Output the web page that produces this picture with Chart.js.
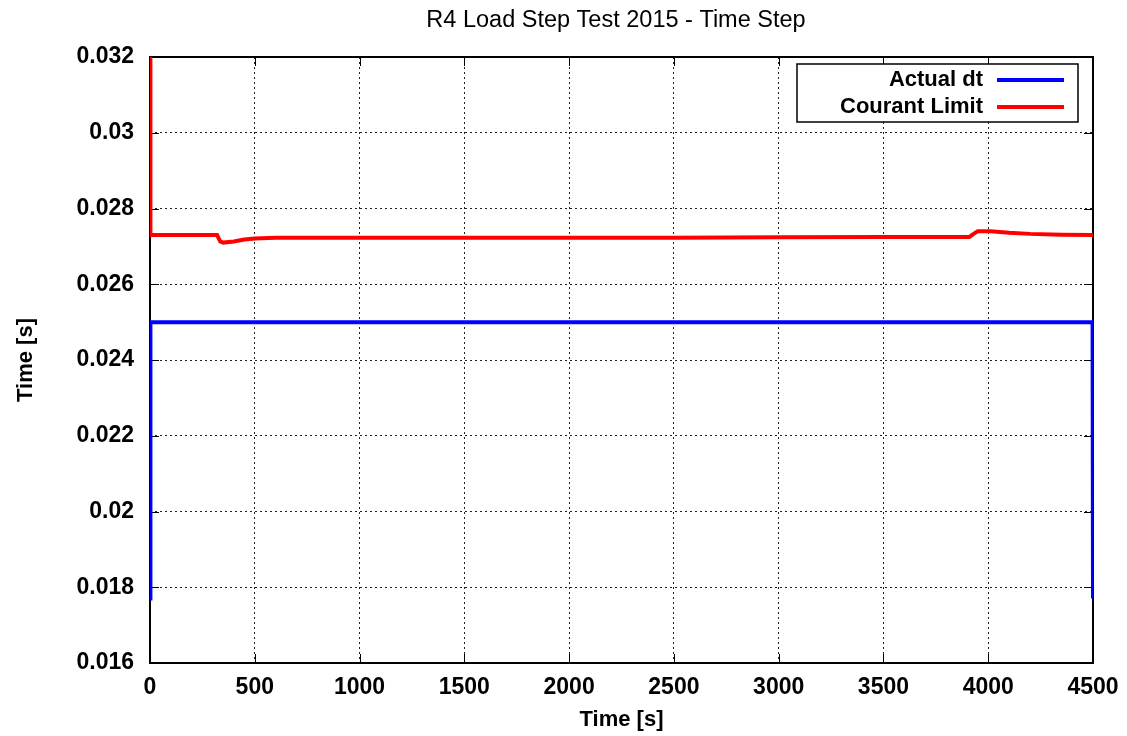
<!DOCTYPE html>
<html>
<head>
<meta charset="utf-8">
<script src="https://cdn.jsdelivr.net/npm/chart.js@4/dist/chart.umd.min.js"></script>
<style>
  html, body { margin: 0; padding: 0; background: #fff; }
  #wrap { width: 1127px; height: 736px; }
</style>
</head>
<body>
<div id="wrap"><canvas id="myChart" width="1127" height="736"></canvas></div>
<script>
// chart data
const chartTitle = 'R4 Load Step Test 2015 - Time Step';
const xTickLabels = ['0', '500', '1000', '1500', '2000', '2500', '3000', '3500', '4000', '4500'];
const yTickLabels = ['0.016', '0.018', '0.02', '0.022', '0.024', '0.026', '0.028', '0.03', '0.032'];

const actualTime = [0, 2, 4498, 4500];
const actualDt = [0.0177, 0.025, 0.025, 0.0177];

const courantTime = [0, 2, 320, 335, 350, 400, 450, 500, 600, 1000, 1500, 2000, 2500, 3000, 3500, 3910, 3930, 3950, 3980, 4010, 4100, 4200, 4350, 4500];
const courantLimit = [0.0345, 0.0273, 0.0273, 0.02713, 0.0271, 0.02713, 0.02718, 0.02721, 0.02723, 0.02723, 0.02723, 0.02723, 0.02723, 0.02724, 0.02725, 0.02725, 0.02733, 0.0274, 0.0274, 0.0274, 0.02736, 0.02733, 0.02731, 0.0273];

const seriesNames = ['Actual dt', 'Courant Limit'];
const seriesColors = ['#0000ff', '#ff0000'];

function toPoints(xs, ys) {
  return xs.map(function (x, i) { return { x: x, y: ys[i] }; });
}

const fontFamily = '"Liberation Sans", Arial, Helvetica, sans-serif';

// frame, inward ticks, legend box and title (gnuplot look)
const gnuplotDecor = {
  id: 'gnuplotDecor',
  beforeDatasetsDraw(chart) {
    const ctx = chart.ctx;
    const a = chart.chartArea;
    const xs = chart.scales.x, ys = chart.scales.y;
    const tick = 9;
    ctx.save();
    ctx.strokeStyle = '#000';
    ctx.lineWidth = 1;
    ctx.setLineDash([]);
    ctx.beginPath();
    xs.ticks.forEach(function (t) {
      const px = Math.round(xs.getPixelForValue(t.value)) + 0.5;
      ctx.moveTo(px, a.bottom); ctx.lineTo(px, a.bottom - tick);
      ctx.moveTo(px, a.top); ctx.lineTo(px, a.top + tick);
    });
    ys.ticks.forEach(function (t) {
      const py = Math.round(ys.getPixelForValue(t.value)) + 0.5;
      ctx.moveTo(a.left, py); ctx.lineTo(a.left + tick, py);
      ctx.moveTo(a.right, py); ctx.lineTo(a.right - tick, py);
    });
    ctx.stroke();
    ctx.lineWidth = 2;
    ctx.strokeRect(a.left, a.top, a.right - a.left, a.bottom - a.top);
    ctx.restore();
  },
  afterDraw(chart) {
    const ctx = chart.ctx;
    ctx.save();
    // title
    ctx.fillStyle = '#000';
    ctx.font = '23.5px ' + fontFamily;
    ctx.textAlign = 'center';
    ctx.textBaseline = 'middle';
    ctx.fillText(chartTitle, 616, 21);

    // legend
    const boxL = 797, boxT = 64, boxR = 1078, boxB = 122;
    ctx.fillStyle = '#fff';
    ctx.fillRect(boxL, boxT, boxR - boxL, boxB - boxT);
    ctx.strokeStyle = '#000';
    ctx.lineWidth = 1.5;
    ctx.strokeRect(boxL, boxT, boxR - boxL, boxB - boxT);
    ctx.font = 'bold 22px ' + fontFamily;
    ctx.textAlign = 'right';
    seriesNames.forEach(function (name, i) {
      const y = 80 + i * 27;
      ctx.fillStyle = '#000';
      ctx.fillText(name, 983, y);
      ctx.strokeStyle = seriesColors[i];
      ctx.lineWidth = 4;
      ctx.beginPath();
      ctx.moveTo(997, y);
      ctx.lineTo(1064, y);
      ctx.stroke();
    });
    ctx.restore();
  }
};

const ctx = document.getElementById('myChart').getContext('2d');

new Chart(ctx, {
  type: 'line',
  data: {
    datasets: [
      {
        label: seriesNames[0],
        data: toPoints(actualTime, actualDt),
        borderColor: seriesColors[0],
        borderWidth: 4,
        pointRadius: 0,
        tension: 0,
        fill: false
      },
      {
        label: seriesNames[1],
        data: toPoints(courantTime, courantLimit),
        borderColor: seriesColors[1],
        borderWidth: 4,
        pointRadius: 0,
        tension: 0,
        fill: false
      }
    ]
  },
  options: {
    responsive: false,
    animation: false,
    layout: { padding: { top: 57, right: 34, bottom: 0, left: 0 } },
    plugins: {
      legend: { display: false },
      title: { display: false },
      tooltip: { enabled: false }
    },
    scales: {
      x: {
        type: 'linear',
        min: 0,
        max: 4500,
        afterFit: function (scale) {
          scale.height = 73;
          scale.paddingLeft = 0;
          scale.paddingRight = 0;
        },
        ticks: {
          stepSize: 500,
          autoSkip: false,
          maxRotation: 0,
          padding: 11,
          color: '#000',
          font: { family: fontFamily, size: 23, weight: 'bold' },
          callback: function (value, index) { return xTickLabels[index]; }
        },
        grid: { color: '#222', lineWidth: 1, drawTicks: false },
        border: { display: false, dash: [2, 3] },
        title: {
          display: true,
          text: 'Time [s]',
          color: '#000',
          font: { family: fontFamily, size: 22, weight: 'bold' },
          padding: { top: 0, bottom: 3 }
        }
      },
      y: {
        type: 'linear',
        min: 0.016,
        max: 0.032,
        afterFit: function (scale) {
          scale.width = 150;
          scale.paddingTop = 0;
          scale.paddingBottom = 0;
        },
        ticks: {
          stepSize: 0.002,
          autoSkip: false,
          padding: 16,
          color: '#000',
          font: { family: fontFamily, size: 23, weight: 'bold' },
          callback: function (value, index) { return yTickLabels[index]; }
        },
        grid: { color: '#222', lineWidth: 1, drawTicks: false },
        border: { display: false, dash: [2, 3] },
        title: {
          display: true,
          text: 'Time [s]',
          color: '#000',
          font: { family: fontFamily, size: 22, weight: 'bold' },
          padding: { top: 13, bottom: 0 }
        }
      }
    }
  },
  plugins: [gnuplotDecor]
});
</script>
</body>
</html>
